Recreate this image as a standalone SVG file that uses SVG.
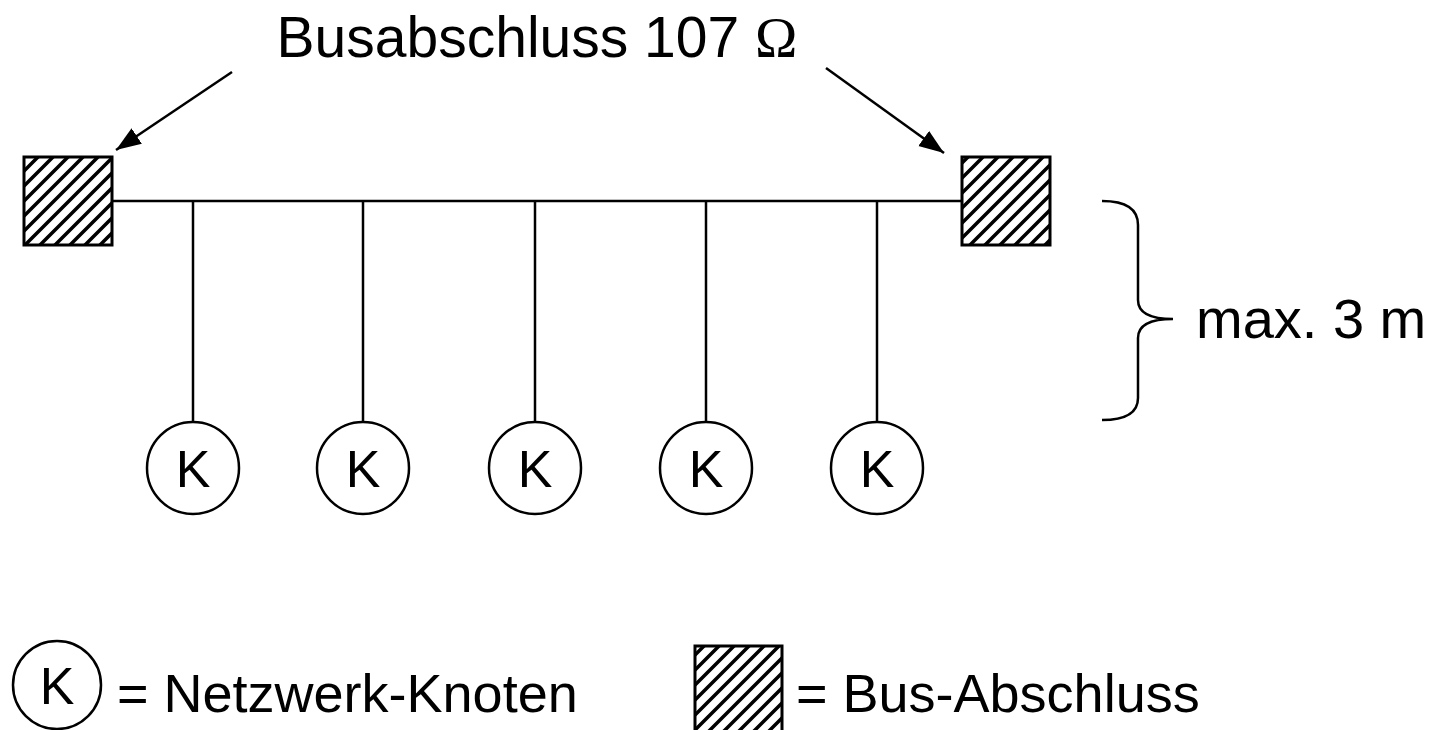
<svg xmlns="http://www.w3.org/2000/svg" width="1450" height="730" viewBox="0 0 1450 730">
<style>
.t{font-family:"Liberation Sans",Arial,sans-serif;fill:#000}
.ln{stroke:#000;stroke-width:2.5;fill:none}
.node{fill:#fff;stroke:#000;stroke-width:2.5}
.term{fill:url(#hatch);stroke:#000;stroke-width:3}
.k{font-size:52px;text-anchor:middle}
</style>
<defs>
<pattern id="hatch" patternUnits="userSpaceOnUse" width="15" height="15">
<rect width="15" height="15" fill="#fff"/>
<path d="M-4,4 L4,-4 M0,15 L15,0 M11,19 L19,11" stroke="#000" stroke-width="3.5"/>
</pattern>
<marker id="arr" viewBox="0 0 10 10" refX="10" refY="5" markerWidth="10" markerHeight="10" orient="auto" markerUnits="strokeWidth">
<path d="M0,1.3 L10,5 L0,8.7 z" fill="#000"/>
</marker>
</defs>
<text class="t" x="537" y="57" font-size="57" text-anchor="middle">Busabschluss 107 <tspan font-family="Liberation Serif, serif">Ω</tspan></text>
<g id="connectors">
<line class="ln" x1="232" y1="72" x2="116" y2="150" stroke-width="3" marker-end="url(#arr)"/>
<line class="ln" x1="826" y1="68" x2="944" y2="153" stroke-width="3" marker-end="url(#arr)"/>
<line class="ln" x1="112" y1="201" x2="962" y2="201" stroke-width="3"/>
<line class="ln" x1="193" y1="201" x2="193" y2="422"/>
<line class="ln" x1="363" y1="201" x2="363" y2="422"/>
<line class="ln" x1="535" y1="201" x2="535" y2="422"/>
<line class="ln" x1="706" y1="201" x2="706" y2="422"/>
<line class="ln" x1="877" y1="201" x2="877" y2="422"/>
</g>
<g id="term-left"><rect class="term" x="24" y="157" width="88" height="88"/></g>
<g id="term-right"><rect class="term" x="962" y="157" width="88" height="88"/></g>
<g id="node1"><circle class="node" cx="193" cy="468" r="46"/><text class="t k" x="193" y="487">K</text></g>
<g id="node2"><circle class="node" cx="363" cy="468" r="46"/><text class="t k" x="363" y="487">K</text></g>
<g id="node3"><circle class="node" cx="535" cy="468" r="46"/><text class="t k" x="535" y="487">K</text></g>
<g id="node4"><circle class="node" cx="706" cy="468" r="46"/><text class="t k" x="706" y="487">K</text></g>
<g id="node5"><circle class="node" cx="877" cy="468" r="46"/><text class="t k" x="877" y="487">K</text></g>
<g id="brace">
<path class="ln" stroke-width="3" d="M1102,201 C1127,201 1138,210 1138,225 L1138,300 C1138,313 1150,319 1173,319 C1150,319 1138,325 1138,338 L1138,398 C1138,412 1127,420 1102,420"/>
<text class="t" x="1196" y="338" font-size="56">max. 3 m</text>
</g>
<g id="legend-node"><circle class="node" cx="57" cy="685" r="44"/><text class="t k" x="57" y="704">K</text>
<text class="t" x="117" y="712" font-size="54">= Netzwerk-Knoten</text></g>
<g id="legend-term"><rect class="term" x="695" y="646" width="87" height="87"/>
<text class="t" x="796" y="712" font-size="54">= Bus-Abschluss</text></g>
</svg>
